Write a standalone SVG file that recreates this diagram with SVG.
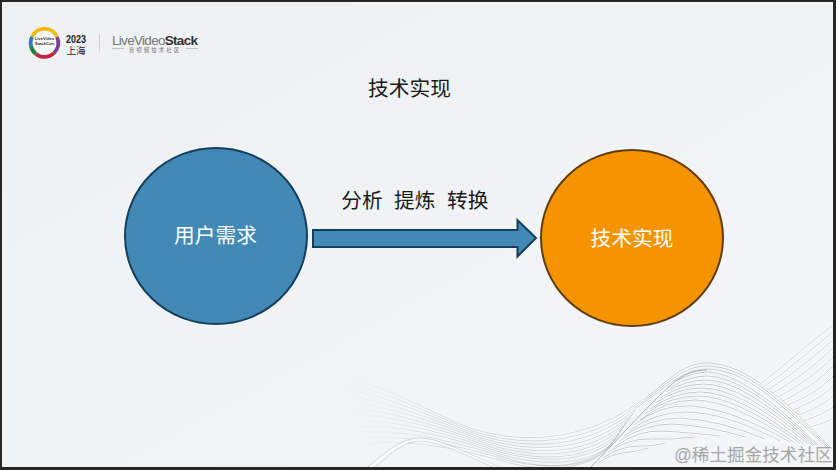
<svg xmlns="http://www.w3.org/2000/svg" width="836" height="470" viewBox="0 0 836 470">
<style>
text{font-family:"Liberation Sans","Noto Sans CJK SC",sans-serif}
.t{font-size:20.7px;text-anchor:middle;fill:#1a1a1a}
.w{font-size:20.7px;text-anchor:middle;fill:#fff}
.c{stroke-width:2}
</style>
<defs>
<linearGradient id="bg" x1="0" y1="0" x2="1" y2="1"><stop offset="0" stop-color="#eff0f2"/><stop offset="1" stop-color="#f3f5f7"/></linearGradient>
<linearGradient id="fade" gradientUnits="userSpaceOnUse" x1="340" y1="0" x2="540" y2="0"><stop offset="0" stop-color="#c4c8cb" stop-opacity="0"/><stop offset=".45" stop-color="#bcc1c4"/><stop offset="1" stop-color="#a2a7ac"/></linearGradient>
<linearGradient id="fadeW" gradientUnits="userSpaceOnUse" x1="340" y1="0" x2="540" y2="0"><stop offset="0" stop-color="#fff" stop-opacity="0"/><stop offset="1" stop-color="#fff"/></linearGradient>
<clipPath id="frame"><rect x="2" y="2" width="831" height="465"/></clipPath>
<g id="trough" fill="none">
<path d="M345,378C385,385 420,408 470,428C525,446 590,440 645,398"/>
<path d="M345,384C385,390 422,411 473,431C528,449 592,444 642,402"/>
<path d="M345,390C385,395 424,414 476,434C530,452 594,448 639,406"/>
<path d="M345,396C385,400 426,417 479,437C532,455 596,452 636,410"/>
<path d="M345,402C385,405 428,420 482,440C534,458 598,456 633,414"/>
<path d="M345,408C385,410 430,423 485,443C536,461 600,459 630,418"/>
<path d="M347,414C387,415 432,426 488,446C538,464 602,462 627,422"/>
<path d="M350,420C389,420 434,429 491,449C540,466 604,464 624,426"/>
<path d="M353,426C391,425 436,432 494,452C542,469 606,467 621,430"/>
<path d="M357,432C393,430 438,436 497,455C544,472 600,472 618,434"/>
<path d="M361,438C395,435 440,440 500,458C530,468 590,474 615,439"/>
<path d="M366,444C398,440 442,444 503,461C530,470 590,476 612,443"/>
</g>
<g id="hump" fill="none">
<path d="M645,398C670,380 682,363 707,363C745,363 785,400 830,447"/>
<path d="M642,402C668,384 682,366 707,366C745,366 783,402 828,447"/>
<path d="M639,406C666,388 682,369 707,369C745,369 781,404 826,447"/>
<path d="M676,381Q695,372 707,372Q745,372 818,445"/>
<path d="M671,387Q690,376 707,376Q745,376 816,445"/>
<path d="M666,392Q686,380 706,380Q744,380 814,445"/>
<path d="M660,398Q682,384 704,384Q742,384 812,445"/>
<path d="M655,403Q678,388 702,388Q740,388 808,444"/>
<path d="M650,409Q674,392 700,392Q738,392 804,444"/>
<path d="M645,414Q670,396 698,396Q735,396 800,443"/>
<path d="M640,420Q665,400 695,400Q732,400 795,443"/>
<path d="M634,425Q660,404 690,406Q730,408 790,442"/>
<path d="M629,431Q655,412 685,412Q725,412 780,441"/>
<path d="M624,436Q650,418 680,418Q720,420 765,439"/>
<path d="M619,441Q645,424 672,424Q710,426 745,437"/>
<path d="M614,447Q638,430 662,431Q695,433 720,436"/>
<path d="M608,452Q630,438 650,439Q672,440 695,437"/>
<path d="M603,458Q620,446 640,446Q655,446 665,443"/>
<path d="M598,463Q612,453 630,452Q640,451 648,448"/>
</g>
<g id="fan" fill="none">
<path d="M759,385C782,368 806,345 833,325"/>
<path d="M763,387C786,372 808,352 833,332"/>
<path d="M768,390C790,376 810,360 833,340"/>
<path d="M773,393C794,381 813,367 833,348"/>
<path d="M778,397C798,386 816,374 833,357"/>
<path d="M783,401C802,391 818,382 833,366"/>
<path d="M788,405C806,397 820,390 833,376"/>
<path d="M793,410C810,403 822,397 833,386"/>
<path d="M798,415C813,410 824,404 833,396"/>
<path d="M803,421C816,417 826,412 833,407"/>
<path d="M809,427C819,425 828,421 833,418"/>
</g>
</defs>
<rect width="836" height="470" fill="#262626"/>
<rect x="2" y="2" width="831" height="465" fill="url(#bg)"/>
<g id="waves" clip-path="url(#frame)">
<use href="#trough" stroke="url(#fadeW)" stroke-width="1.8"/>
<use href="#trough" stroke="url(#fade)" stroke-width=".5"/>
<g fill="none">
<path stroke="#fff" stroke-width="2" d="M367,470C385,455 400,440 420,440C440,440 475,458 505,470"/>
<path stroke="#b4b8bc" stroke-width=".5" d="M367,468C385,453 400,438 420,438C440,438 472,456 502,468"/>
<path stroke="#b4b8bc" stroke-width=".5" d="M372,470C390,455 403,441 420,441C440,441 472,458 499,470"/>
</g>
<use href="#hump" stroke="#fff" stroke-width="2.200"/>
<use href="#hump" stroke="#979da2" stroke-width=".55"/>
<use href="#fan" stroke="#fff" stroke-width="2.200"/>
<use href="#fan" stroke="#a5aaae" stroke-width=".55"/>
<path d="M588,470C612,446 645,408 673,383C685,374 695,370 707,370" fill="none" stroke="#7a8086" stroke-width=".6"/>
</g>
<g id="logo">
<g fill="none" stroke-width="3.800">
<path stroke="#f2b90f" d="M32,37A13.500,13.500 0 0 1 57,37"/>
<path stroke="#7c3f98" d="M57,37A13.500,13.500 0 0 1 54,53"/>
<path stroke="#c6243e" d="M54,53A13.500,13.500 0 0 1 36,54"/>
<path stroke="#23803f" d="M36,54A13.500,13.500 0 0 1 31,46"/>
<path stroke="#2b7cc0" d="M31,46A13.500,13.500 0 0 1 32,37"/>
</g>
<circle cx="44.500" cy="43" r="11.500" fill="#fafafa"/>
<text x="44.500" y="40" font-size="4.200" font-weight="700" text-anchor="middle" fill="#333">LiveVideo</text>
<text x="44.500" y="45" font-size="4.200" font-weight="700" text-anchor="middle" fill="#333">StackCon</text>
<text x="76" y="42.800" font-size="11" font-weight="700" text-anchor="middle" fill="#222" textLength="20" lengthAdjust="spacingAndGlyphs">2023</text>
<text x="76" y="54" font-size="9.500" text-anchor="middle" fill="#222">上海</text>
<path d="M99.500,34V52" stroke="#d0d0d0" stroke-width="1"/>
<text x="112" y="44.500" font-size="13.500" fill="#777" textLength="86">LiveVideo<tspan font-weight="700" fill="#333">Stack</tspan></text>
<text x="155" y="52" font-size="5.500" text-anchor="middle" fill="#777" letter-spacing="2">音视频技术社区</text>
<path d="M112,48.500H124M186,48.500H198" stroke="#aaa" stroke-width=".7"/>
</g>
<g id="title"><text class="t" x="409.500" y="96">技术实现</text></g>
<g id="connectors">
<path id="arrow" d="M313,230H517.500V220L536,238L517.500,256.500V247H313Z" fill="#4389b5" stroke="#123f5c" stroke-width="2"/>
</g>
<g id="label"><text class="t" x="414.800" y="208" xml:space="preserve">分析  提炼  转换</text></g>
<g id="node-user">
<ellipse class="c" cx="216" cy="236" rx="91" ry="88" fill="#4389b5" stroke="#123f5c"/>
<text class="w" x="215.500" y="243">用户需求</text>
</g>
<g id="node-impl">
<ellipse class="c" cx="632" cy="238" rx="91" ry="88" fill="#f69400" stroke="#5e3d10"/>
<text class="w" x="632" y="246">技术实现</text>
</g>
<g id="watermark"><text x="674" y="461" font-size="17.600" fill="#a4a6a8">@稀土掘金技术社区</text></g>
</svg>
